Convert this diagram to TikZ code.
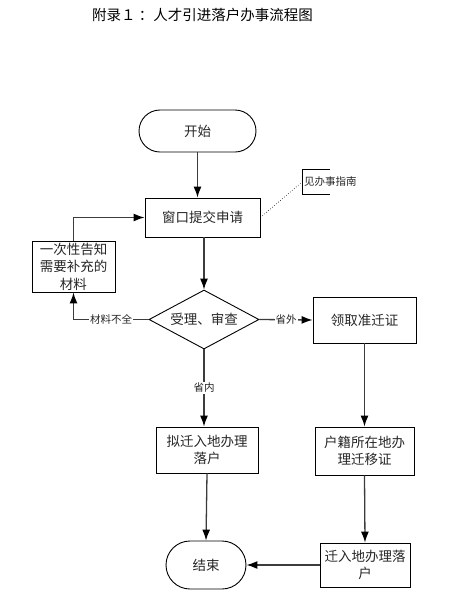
\documentclass[tikz,border=0pt]{standalone}
\usepackage{fontspec}
\setmainfont{Noto Sans CJK SC}
\usetikzlibrary{shapes.geometric}
\usetikzlibrary{shapes.misc}
\usetikzlibrary{arrows.meta}
\definecolor{linegray}{RGB}{60,60,60}
\newcommand{\bodysize}{\fontsize{13.5}{17.5}\selectfont}
\newcommand{\tagsize}{\fontsize{10.5}{12}\selectfont}
\tikzset{
    common/.style={draw, line width=0.9pt, font=\bodysize, align=center, inner sep=0pt, text=black!85},
    block/.style={common, rectangle},
    terminal/.style={common, rounded rectangle},
    decision/.style={common, diamond, aspect=1.86},
    flow/.style={line width=1.3pt, linegray, -{Latex[length=11pt,width=8pt,black]}},
    tag/.style={fill=white, font=\tagsize, inner sep=1pt, text=black!85},
}

\begin{document}
\begin{tikzpicture}[x=1pt, y=-1pt]
    \useasboundingbox (0,0) rectangle (450,614);

    \node[font=\fontsize{14.5}{16}\selectfont] (title) at (202.5,15) {附录１ ：人才引进落户办事流程图};

    \node[terminal, minimum width=117pt, minimum height=42pt] (start) at (197.5,131) {开始};
    \node[block, minimum width=115pt, minimum height=39pt] (apply) at (202.5,217.5) {窗口提交申请};
    \node[block, minimum width=83pt, minimum height=51pt] (notice) at (73.5,266.5) {一次性告知\\需要补充的\\材料};
    \node[decision, minimum width=110pt, minimum height=59pt] (check) at (204,319.5) {受理、审查};
    \node[block, minimum width=103pt, minimum height=46pt] (permit) at (364.5,320) {领取准迁证};
    \node[block, minimum width=102pt, minimum height=46pt] (settle) at (207,450) {拟迁入地办理\\落户};
    \node[block, minimum width=99pt, minimum height=48pt] (transfer) at (364.5,451) {户籍所在地办\\理迁移证};
    \node[block, minimum width=90pt, minimum height=44pt] (register) at (365,565) {迁入地办理落\\户};
    \node[terminal, minimum width=80pt, minimum height=48pt] (finish) at (206,565) {结束};

    \node[font=\tagsize, anchor=west, inner xsep=2pt, inner ysep=0pt, minimum height=24pt, text=black!85] (guide) at (302,182) {见办事指南};
    \draw[line width=0.9pt] ([xshift=28pt]guide.north west) -- (guide.north west) -- (guide.south west) -- ([xshift=28pt]guide.south west);
    \draw[dotted, line width=0.6pt] (apply.east) -- (guide.west);

    \draw[flow] (start.south) -- (start.south |- apply.north);
    \draw[flow] (check.north |- apply.south) -- (check.north);
    \draw[flow] (check.west) -- node[tag] {材料不全} (check.west -| notice.south) -- (notice.south);
    \draw[flow] (notice.north) |- (apply.west);
    \draw[flow] (check.east) -- node[tag] {省外} (permit.west);
    \draw[flow] (check.south) -- node[tag] {省内} (check.south |- settle.north);
    \draw[flow] (permit.south) -- (transfer.north);
    \draw[flow] (transfer.south) -- (register.north);
    \draw[flow] (settle.south) -- (finish.north);
    \draw[flow] (register.west) -- (finish.east);
\end{tikzpicture}
\end{document}
